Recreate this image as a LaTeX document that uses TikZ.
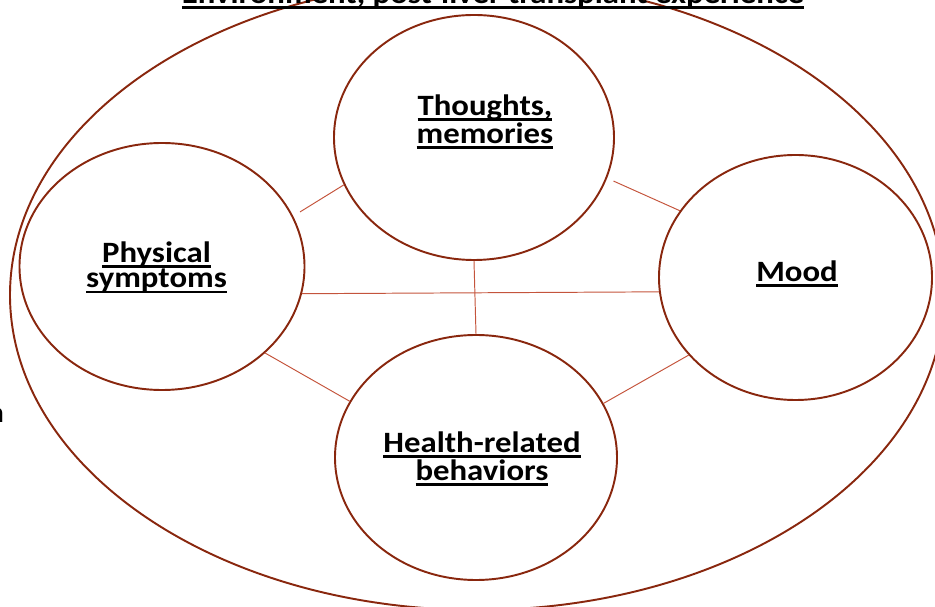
\documentclass[tikz,border=0pt]{standalone}
\usepackage{fontspec}
\setmainfont{Carlito}[FakeStretch=1.11]
\usetikzlibrary{shapes.geometric}
\definecolor{ringbrown}{RGB}{137,39,14}
\definecolor{linkred}{RGB}{196,84,60}
\newsavebox{\ulbox}
\newcommand{\uln}[1]{\leavevmode\sbox{\ulbox}{#1}\rlap{\rule[-3.1pt]{\wd\ulbox}{1.5pt}}\usebox{\ulbox}}

\begin{document}
\begin{tikzpicture}[
  ring/.style={ellipse, draw=ringbrown, line width=1.1pt, inner sep=0pt},
  lbl/.style={font=\bfseries\fontsize{16.8}{14.4}\selectfont, align=center, inner sep=0pt},
  link/.style={draw=linkred, line width=0.55pt}
]
\useasboundingbox (0,0) rectangle (18.7,12.12);
\node[ring, minimum width=18.68cm, minimum height=12.6cm] (env) at (9.54,6.22) {};
\node[ring, minimum width=5.7cm, minimum height=4.94cm] (phys) at (3.24,6.79) {};
\node[ring, minimum width=5.6cm, minimum height=4.9cm] (thoughts) at (9.48,9.37) {};
\node[ring, minimum width=5.46cm, minimum height=4.9cm] (mood) at (15.91,6.57) {};
\node[ring, minimum width=5.64cm, minimum height=4.9cm] (health) at (9.52,2.97) {};
\node[lbl, anchor=base] (title) at (9.86,12.05)
  {\uln{Environment, post-liver transplant experience}};
\node[lbl] (physlbl) at (3.13,6.77) {\uln{Physical}\\\uln{symptoms}};
\node[lbl] (thoughtslbl) at (9.7,9.68) {\uln{Thoughts,}\\\uln{memories}};
\node[lbl] (moodlbl) at (15.94,6.64) {\uln{Mood}};
\node[lbl] (healthlbl) at (9.64,2.94) {\uln{Health-related}\\\uln{behaviors}};
\node[anchor=base east, inner sep=0pt, font=\fontsize{16.8}{14.4}\selectfont]
  (cutn) at (0.094,3.66) {n};
\draw[link, shorten <=0.16cm] (phys.21) -- (thoughts.200);
\draw[link, shorten <=0.14cm] (thoughts.-17) -- (mood.150);
\draw[link] (phys.-40) -- (health.156);
\draw[link] (health.23) -- (mood.216);
\draw[link] (phys.-11) -- (mood.186);
\draw[link] (thoughts.south) -- (health.north);
\end{tikzpicture}
\end{document}
